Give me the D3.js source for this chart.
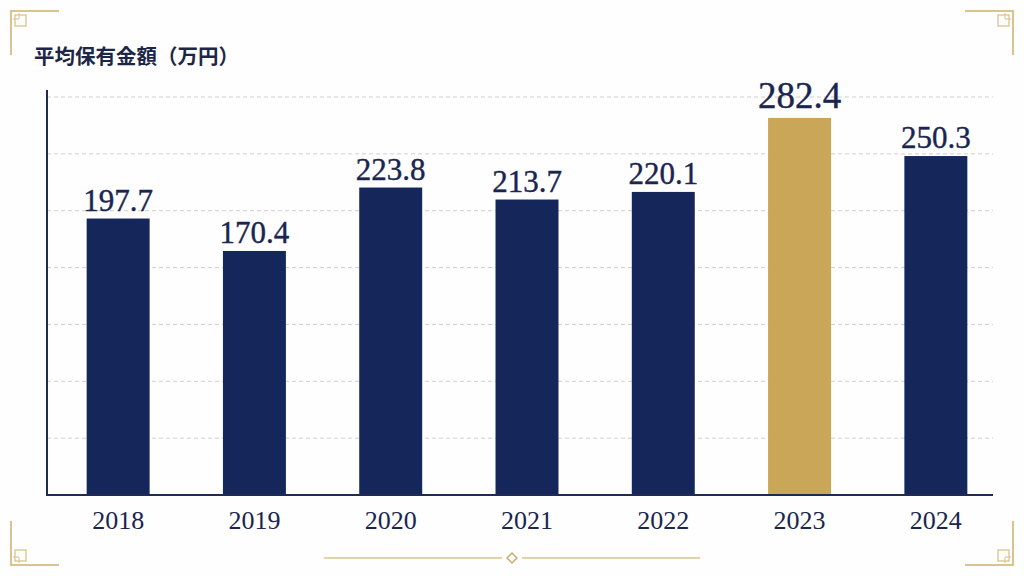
<!DOCTYPE html>
<html>
<head>
<meta charset="utf-8">
<script src="https://cdn.jsdelivr.net/npm/d3@7"></script>
<style>
  html, body { margin: 0; padding: 0; background: #fefefe; }
  svg { display: block; }
</style>
</head>
<body>
<div id="chart"></div>
<script>
// data
const years = ["2018", "2019", "2020", "2021", "2022", "2023", "2024"];
const values = [197.7, 170.4, 223.8, 213.7, 220.1, 282.4, 250.3];
const highlightYear = "2023";
const gridSteps = [1, 2, 3, 4, 5, 6, 7];
const title = "平均保有金額（万円）";

const W = 1024, H = 576;
const navy = "#15275a";
const gold = "#c9a658";
const ornament = "#d9c38e";

const svg = d3.select("#chart").append("svg")
    .attr("width", W)
    .attr("height", H);

svg.append("rect").attr("width", W).attr("height", H).attr("fill", "#fefefe");

const plotLeft = 47, plotRight = 993, plotBase = 495, plotTop = 97;

const x = d3.scaleBand().domain(years).range([50, 1004]).paddingInner(0.538).paddingOuter(0.269);
const y = d3.scaleLinear().domain([-35, 300]).range([plotBase, plotTop]);
const grid = d3.scaleLinear().domain([0, 7]).range([plotBase, plotTop]);

// gridlines
svg.append("g").selectAll("line")
    .data(gridSteps)
    .join("line")
    .attr("x1", plotLeft).attr("x2", plotRight)
    .attr("y1", d => grid(d)).attr("y2", d => grid(d))
    .attr("stroke", "#cfcfcf")
    .attr("stroke-width", 1)
    .attr("stroke-dasharray", "4,3");

// bars
svg.append("g").selectAll("rect")
    .data(years)
    .join("rect")
    .attr("x", d => x(d))
    .attr("width", x.bandwidth())
    .attr("y", (d, i) => y(values[i]))
    .attr("height", (d, i) => plotBase - y(values[i]))
    .attr("fill", d => d === highlightYear ? gold : navy);

// value labels
svg.append("g").selectAll("text")
    .data(years)
    .join("text")
    .attr("x", d => x(d) + x.bandwidth() / 2)
    .attr("y", (d, i) => y(values[i]) - (d === highlightYear ? 10 : 8))
    .attr("text-anchor", "middle")
    .attr("font-family", "'Liberation Serif', 'DejaVu Serif', serif")
    .attr("font-size", d => d === highlightYear ? 37 : 31)
    .attr("fill", "#1a2550")
    .attr("stroke", "#1a2550")
    .attr("stroke-width", 0.4)
    .text((d, i) => values[i].toFixed(1));

// axes lines
svg.append("line")
    .attr("x1", plotLeft).attr("x2", plotLeft)
    .attr("y1", 90).attr("y2", plotBase)
    .attr("stroke", "#1f2a55").attr("stroke-width", 2);
svg.append("line")
    .attr("x1", plotLeft - 1).attr("x2", plotRight)
    .attr("y1", plotBase).attr("y2", plotBase)
    .attr("stroke", "#1f2a55").attr("stroke-width", 2);

// year labels
const xAxis = d3.axisBottom(x).tickSize(0).tickPadding(0);
const ax = svg.append("g").attr("transform", `translate(0,${plotBase})`).call(xAxis);
ax.select(".domain").remove();
ax.selectAll("text")
    .attr("y", 34)
    .attr("dy", 0)
    .attr("font-family", "'Liberation Serif', 'DejaVu Serif', serif")
    .attr("font-size", 26)
    .attr("fill", "#1a2550");

// title
svg.append("text")
    .attr("x", 34).attr("y", 64)
    .attr("font-family", "'Noto Sans CJK JP', sans-serif")
    .attr("font-weight", "bold")
    .attr("font-size", 20.5)
    .attr("fill", "#1e2648")
    .text(title);

// corner ornaments
function corner(cx, cy, sx, sy) {
    const g = svg.append("g")
        .attr("transform", `translate(${cx},${cy}) scale(${sx},${sy})`)
        .attr("stroke", ornament).attr("fill", "none").attr("stroke-width", 2);
    g.append("path").attr("d", "M0,44 L0,0 L48,0");
    g.append("rect").attr("x", 4).attr("y", 4).attr("width", 11).attr("height", 11).attr("stroke-width", 1.3);
    g.append("path").attr("d", "M2,8 L8,8 L8,2").attr("stroke-width", 1);
}
corner(11, 11, 1, 1);
corner(1013, 11, -1, 1);
corner(11, 565, 1, -1);
corner(1013, 565, -1, -1);

// bottom ornament
svg.append("line").attr("x1", 324).attr("x2", 502).attr("y1", 558).attr("y2", 558)
    .attr("stroke", ornament).attr("stroke-width", 1.3);
svg.append("line").attr("x1", 522).attr("x2", 700).attr("y1", 558).attr("y2", 558)
    .attr("stroke", ornament).attr("stroke-width", 1.3);
svg.append("rect").attr("x", -3.5).attr("y", -3.5).attr("width", 7).attr("height", 7)
    .attr("transform", "translate(512,558) rotate(45)")
    .attr("fill", "none").attr("stroke", "#c8ad6e").attr("stroke-width", 1.5);
</script>
</body>
</html>
